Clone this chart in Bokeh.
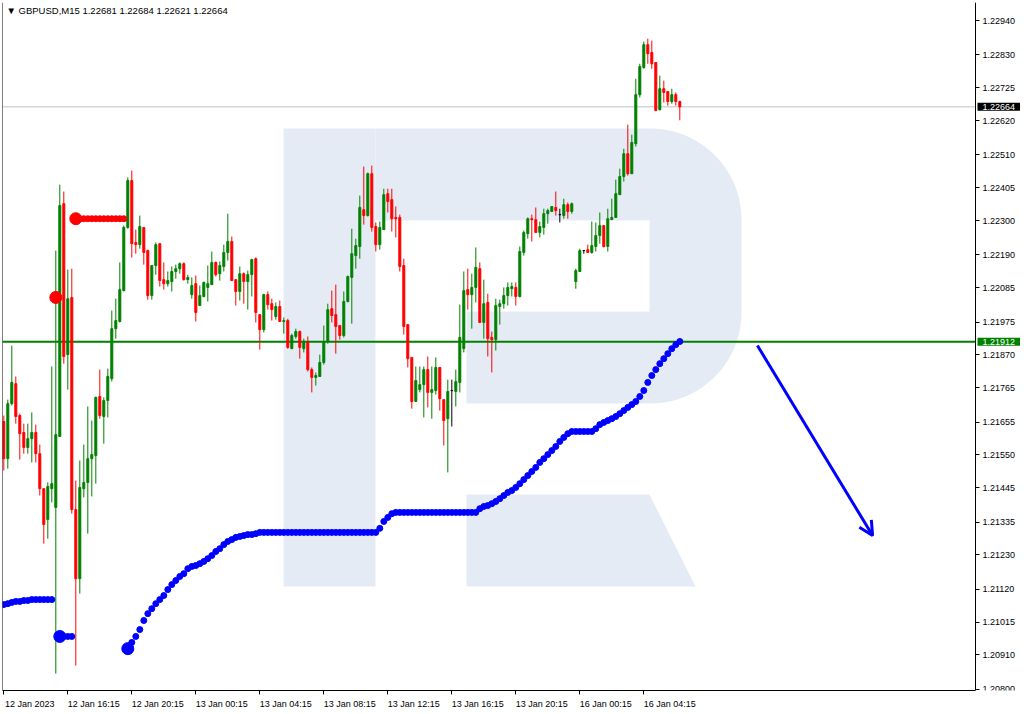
import numpy as np
from bokeh.plotting import figure
from bokeh.models import (FixedTicker, PrintfTickFormatter, Range1d, Label, Span, LinearAxis,
                          Arrow, OpenHead, PolyAnnotation, ColumnDataSource)
from bokeh.embed import file_html
from bokeh.resources import INLINE

nan = float("nan")

# ---------------- data (GBPUSD M15) ----------------
opens = [1.21657, 1.21538, 1.21714, 1.21778, 1.21676, 1.21622, 1.21574, 1.21602, 1.21622, 1.21554,
         1.21442, 1.21343, 1.21442, 1.21382, 1.21609, 1.22354, 1.21871, 1.22054, 1.21375, 1.21154,
         1.21442, 1.21462, 1.21538, 1.21548, 1.21737, 1.21673, 1.21724, 1.21794, 1.21954, 1.21977,
         1.22076, 1.22278, 1.22428, 1.22230, 1.22223, 1.22278, 1.22204, 1.22060, 1.22156, 1.22226,
         1.22111, 1.22098, 1.22105, 1.22137, 1.22146, 1.22162, 1.22111, 1.22063, 1.22098, 1.22028,
         1.22057, 1.22086, 1.22095, 1.22166, 1.22130, 1.22153, 1.22198, 1.22233, 1.22111, 1.22073,
         1.22130, 1.22105, 1.22127, 1.22178, 1.21999, 1.21951, 1.22063, 1.22034, 1.21993, 1.22025,
         1.21977, 1.21980, 1.21890, 1.21929, 1.21945, 1.21890, 1.21910, 1.21823, 1.21798, 1.21801,
         1.21846, 1.21913, 1.22018, 1.21999, 1.21964, 1.21932, 1.22041, 1.22118, 1.22188, 1.22217,
         1.22335, 1.22316, 1.22450, 1.22281, 1.22223, 1.22271, 1.22386, 1.22367, 1.22310, 1.22310,
         1.22156, 1.21967, 1.21862, 1.21721, 1.21759, 1.21775, 1.21823, 1.21750, 1.21756, 1.21830,
         1.21727, 1.21666, 1.21756, 1.21753, 1.21782, 1.21890, 1.22079, 1.22063, 1.22086, 1.22146,
         1.21974, 1.22038, 1.21926, 1.21919, 1.22025, 1.22034, 1.22060, 1.22082, 1.22086, 1.22057,
         1.22198, 1.22258, 1.22306, 1.22303, 1.22262, 1.22278, 1.22322, 1.22329, 1.22342, 1.22319,
         1.22316, 1.22351, 1.22329, 1.22105, 1.22137, 1.22204, 1.22207, 1.22198, 1.22217, 1.22252,
         1.22284, 1.22217, 1.22303, 1.22310, 1.22383, 1.22441, 1.22514, 1.22450, 1.22546, 1.22703,
         1.22790, 1.22863, 1.22838, 1.22806, 1.22655, 1.22722, 1.22713, 1.22681, 1.22703, 1.22681]
highs = [1.21676, 1.21727, 1.21900, 1.21801, 1.21682, 1.21650, 1.21650, 1.21686, 1.21647, 1.21583,
         1.21442, 1.21462, 1.21833, 1.22204, 1.22415, 1.22393, 1.22143, 1.22146, 1.21468, 1.21532,
         1.21583, 1.21705, 1.21660, 1.21737, 1.21823, 1.21734, 1.21826, 1.22012, 1.22050, 1.22166,
         1.22284, 1.22438, 1.22460, 1.22271, 1.22316, 1.22278, 1.22207, 1.22156, 1.22230, 1.22226,
         1.22166, 1.22137, 1.22153, 1.22159, 1.22166, 1.22166, 1.22127, 1.22118, 1.22124, 1.22092,
         1.22105, 1.22156, 1.22201, 1.22169, 1.22169, 1.22223, 1.22322, 1.22249, 1.22111, 1.22153,
         1.22134, 1.22140, 1.22178, 1.22182, 1.21999, 1.22066, 1.22073, 1.22050, 1.22038, 1.22044,
         1.21990, 1.21986, 1.21938, 1.21954, 1.21948, 1.21922, 1.21929, 1.21830, 1.21814, 1.21871,
         1.21964, 1.22034, 1.22076, 1.22095, 1.21964, 1.22073, 1.22124, 1.22274, 1.22242, 1.22380,
         1.22473, 1.22454, 1.22476, 1.22294, 1.22297, 1.22402, 1.22402, 1.22402, 1.22345, 1.22319,
         1.22178, 1.21967, 1.21862, 1.21833, 1.21833, 1.21833, 1.21865, 1.21833, 1.21862, 1.21830,
         1.21727, 1.21791, 1.21791, 1.21823, 1.22031, 1.22137, 1.22146, 1.22130, 1.22214, 1.22166,
         1.22111, 1.22066, 1.21945, 1.22050, 1.22047, 1.22086, 1.22102, 1.22102, 1.22102, 1.22217,
         1.22268, 1.22310, 1.22319, 1.22342, 1.22297, 1.22338, 1.22338, 1.22345, 1.22393, 1.22338,
         1.22370, 1.22358, 1.22358, 1.22146, 1.22210, 1.22204, 1.22223, 1.22297, 1.22294, 1.22326,
         1.22284, 1.22338, 1.22370, 1.22431, 1.22466, 1.22530, 1.22607, 1.22575, 1.22754, 1.22802,
         1.22873, 1.22882, 1.22876, 1.22806, 1.22764, 1.22748, 1.22713, 1.22722, 1.22710, 1.22684]
lows = [1.21500, 1.21506, 1.21708, 1.21650, 1.21535, 1.21554, 1.21554, 1.21526, 1.21526, 1.21420,
        1.21266, 1.21282, 1.21398, 1.20850, 1.21609, 1.21842, 1.21759, 1.21362, 1.20876, 1.21106,
        1.21414, 1.21298, 1.21417, 1.21458, 1.21666, 1.21586, 1.21670, 1.21785, 1.21922, 1.21974,
        1.22073, 1.22274, 1.22182, 1.22194, 1.22210, 1.22159, 1.22047, 1.22047, 1.22127, 1.22089,
        1.22079, 1.22089, 1.22073, 1.22114, 1.22130, 1.22108, 1.22098, 1.22050, 1.21977, 1.22028,
        1.22054, 1.22041, 1.22095, 1.22121, 1.22108, 1.22137, 1.22172, 1.22108, 1.22028, 1.22044,
        1.22034, 1.22015, 1.22057, 1.21974, 1.21887, 1.21942, 1.22015, 1.21980, 1.21983, 1.21977,
        1.21938, 1.21890, 1.21890, 1.21922, 1.21858, 1.21878, 1.21817, 1.21750, 1.21772, 1.21801,
        1.21839, 1.21906, 1.21974, 1.21874, 1.21919, 1.21926, 1.22038, 1.21970, 1.22146, 1.22178,
        1.22287, 1.22313, 1.22265, 1.22201, 1.22207, 1.22271, 1.22326, 1.22265, 1.22246, 1.22137,
        1.21935, 1.21830, 1.21698, 1.21721, 1.21750, 1.21670, 1.21702, 1.21666, 1.21743, 1.21692,
        1.21580, 1.21494, 1.21641, 1.21705, 1.21750, 1.21878, 1.22015, 1.21954, 1.22038, 1.21974,
        1.21922, 1.21865, 1.21814, 1.21884, 1.21967, 1.22018, 1.22028, 1.22057, 1.22028, 1.22054,
        1.22188, 1.22242, 1.22233, 1.22262, 1.22246, 1.22255, 1.22290, 1.22329, 1.22316, 1.22294,
        1.22306, 1.22306, 1.22322, 1.22082, 1.22137, 1.22194, 1.22198, 1.22194, 1.22201, 1.22226,
        1.22214, 1.22201, 1.22303, 1.22310, 1.22383, 1.22425, 1.22444, 1.22450, 1.22537, 1.22694,
        1.22786, 1.22802, 1.22786, 1.22652, 1.22652, 1.22678, 1.22668, 1.22674, 1.22668, 1.22621]
closes = [1.21538, 1.21714, 1.21782, 1.21673, 1.21618, 1.21574, 1.21602, 1.21622, 1.21554, 1.21442,
          1.21327, 1.21449, 1.21458, 1.21615, 1.22348, 1.21865, 1.22050, 1.21375, 1.21154, 1.21446,
          1.21462, 1.21538, 1.21551, 1.21734, 1.21676, 1.21724, 1.21801, 1.21954, 1.21980, 1.22079,
          1.22278, 1.22428, 1.22226, 1.22223, 1.22281, 1.22198, 1.22060, 1.22156, 1.22223, 1.22108,
          1.22098, 1.22108, 1.22137, 1.22146, 1.22162, 1.22111, 1.22118, 1.22092, 1.22006, 1.22060,
          1.22102, 1.22098, 1.22166, 1.22127, 1.22156, 1.22198, 1.22233, 1.22108, 1.22073, 1.22130,
          1.22105, 1.22127, 1.22175, 1.22006, 1.21951, 1.22063, 1.22031, 1.22015, 1.22025, 1.21977,
          1.21980, 1.21894, 1.21932, 1.21945, 1.21894, 1.21910, 1.21823, 1.21798, 1.21804, 1.21846,
          1.21913, 1.22015, 1.21996, 1.21961, 1.21932, 1.22041, 1.22121, 1.22194, 1.22220, 1.22342,
          1.22316, 1.22450, 1.22278, 1.22223, 1.22278, 1.22383, 1.22361, 1.22306, 1.22306, 1.22153,
          1.21961, 1.21858, 1.21721, 1.21788, 1.21775, 1.21823, 1.21750, 1.21759, 1.21830, 1.21730,
          1.21660, 1.21753, 1.21756, 1.21785, 1.21926, 1.22076, 1.22063, 1.22086, 1.22150, 1.21974,
          1.22034, 1.21922, 1.21919, 1.22028, 1.22034, 1.22060, 1.22086, 1.22089, 1.22057, 1.22201,
          1.22262, 1.22306, 1.22303, 1.22262, 1.22281, 1.22322, 1.22332, 1.22345, 1.22332, 1.22319,
          1.22351, 1.22329, 1.22354, 1.22140, 1.22204, 1.22204, 1.22198, 1.22220, 1.22252, 1.22284,
          1.22217, 1.22306, 1.22310, 1.22386, 1.22441, 1.22514, 1.22450, 1.22550, 1.22703, 1.22793,
          1.22863, 1.22834, 1.22802, 1.22652, 1.22722, 1.22710, 1.22681, 1.22703, 1.22681, 1.22664]

# trailing-stop dots (indicator), one value per bar, nan = no dot
stop_blue = [1.21071, 1.21074, 1.21078, 1.21081, 1.21081, 1.21084, 1.21084, 1.21087, 1.21087, 1.21087,
             1.21087, 1.21087, 1.21087, nan, 1.20969, 1.20969, 1.20969, 1.20969, nan, nan,
             nan, nan, nan, nan, nan, nan, nan, nan, nan, nan,
             nan, 1.20930, 1.20950, 1.20969, 1.20991, 1.21020, 1.21042, 1.21058, 1.21074, 1.21087,
             1.21100, 1.21119, 1.21135, 1.21148, 1.21161, 1.21170, 1.21186, 1.21193, 1.21196, 1.21202,
             1.21209, 1.21218, 1.21228, 1.21241, 1.21250, 1.21263, 1.21273, 1.21279, 1.21286, 1.21289,
             1.21292, 1.21295, 1.21295, 1.21298, 1.21302, 1.21302, 1.21302, 1.21302, 1.21302, 1.21302,
             1.21302, 1.21302, 1.21302, 1.21302, 1.21302, 1.21302, 1.21302, 1.21302, 1.21302, 1.21302,
             1.21302, 1.21302, 1.21302, 1.21302, 1.21302, 1.21302, 1.21302, 1.21302, 1.21302, 1.21302,
             1.21302, 1.21302, 1.21302, 1.21302, 1.21315, 1.21337, 1.21350, 1.21362, 1.21366, 1.21366,
             1.21366, 1.21366, 1.21366, 1.21366, 1.21366, 1.21366, 1.21366, 1.21366, 1.21366, 1.21366,
             1.21366, 1.21366, 1.21366, 1.21366, 1.21366, 1.21366, 1.21366, 1.21366, 1.21366, 1.21378,
             1.21385, 1.21388, 1.21394, 1.21401, 1.21410, 1.21420, 1.21430, 1.21436, 1.21446, 1.21458,
             1.21471, 1.21484, 1.21497, 1.21510, 1.21526, 1.21538, 1.21551, 1.21564, 1.21577, 1.21593,
             1.21606, 1.21618, 1.21625, 1.21625, 1.21625, 1.21625, 1.21625, 1.21625, 1.21634, 1.21647,
             1.21654, 1.21660, 1.21666, 1.21673, 1.21682, 1.21692, 1.21702, 1.21711, 1.21721, 1.21737,
             1.21756, 1.21782, 1.21804, 1.21823, 1.21842, 1.21858, 1.21874, 1.21890, 1.21903, 1.21913]
stop_red_bars = [13, 18, 19, 20, 21, 22, 23, 24, 25, 26, 27, 28, 29, 30]
stop_red = [1.22054, 1.22306, 1.22306, 1.22306, 1.22306, 1.22306, 1.22306, 1.22306, 1.22306,
            1.22306, 1.22306, 1.22306, 1.22306, 1.22306]
signal_blue_bars = [14, 31]
signal_red_bars = [13, 18]

tick_bars = [0, 16, 32, 48, 64, 80, 96, 112, 128, 144, 160]
tick_labels = ["12 Jan 2023", "12 Jan 16:15", "12 Jan 20:15", "13 Jan 00:15", "13 Jan 04:15",
               "13 Jan 08:15", "13 Jan 12:15", "13 Jan 16:15", "13 Jan 20:15", "16 Jan 00:15",
               "16 Jan 04:15"]
price_ticks = [1.22940, 1.22830, 1.22725, 1.22620, 1.22510, 1.22405, 1.22300, 1.22190, 1.22085,
               1.21975, 1.21870, 1.21765, 1.21655, 1.21550, 1.21445, 1.21335, 1.21230, 1.21120,
               1.21015, 1.20910, 1.20800]
bid_price = 1.22664
level_price = 1.21912
arrow_bars = [188.4, 217.2]
arrow_prices = [1.21900, 1.21292]
header = "\u25bc  GBPUSD,M15  1.22681 1.22684 1.22621 1.22664"

# ---------------- figure ----------------
FONT = "Liberation Sans"
W, H = 1024, 714
BL, BT, BB = 2, 2, 24
CHART_W = 973            # px from frame left to the price scale line
FW = W - BL              # frame spans to the right edge (price scale drawn inside it)
FH = H - BT - BB
PX = 4.0                 # px per bar
X0 = -0.325
X1 = X0 + FW / PX
XA = X0 + CHART_W / PX   # data x of the price-scale line
p = figure(width=W, height=H, output_backend="svg", toolbar_location=None,
           x_range=Range1d(X0, X1), y_range=Range1d(1.20796, 1.22998),
           y_axis_location=None, min_border_left=BL, min_border_top=BT,
           min_border_right=0, min_border_bottom=BB)
p.background_fill_color = "white"
p.border_fill_color = "white"
p.outline_line_color = None
p.grid.visible = False

# watermark "R" (decoration, in frame pixels)
def fx(rx):
    return rx - BL

def fy(ry):
    return (H - BB) - ry

wm = "#e5ebf4"
def poly(pts):
    return PolyAnnotation(xs=[fx(a) for a, b in pts], ys=[fy(b) for a, b in pts],
                          xs_units="screen", ys_units="screen", fill_color=wm, fill_alpha=1.0,
                          line_color=None, level="underlay")

stem = [(283, 128), (375, 128), (375, 586), (283, 586)]
t1 = np.linspace(np.pi / 2, 0, 24)
t2 = np.linspace(0, -np.pi / 2, 24)
bowl = [(375, 128), (650, 128)]
bowl += [(650 + 91 * np.cos(t), 219 - 91 * np.sin(t)) for t in t1]
bowl += [(741, 315)]
bowl += [(650 + 91 * np.cos(t), 312 - 91 * np.sin(t)) for t in t2]
bowl += [(466, 403), (466, 311), (649, 311), (649, 220), (375, 220)]
leg = [(466, 494), (649, 494), (695, 586), (466, 586)]
for shape in (stem, bowl, leg):
    p.add_layout(poly(shape))

# left border of the chart window
p.add_layout(Span(location=X0, dimension="height", line_color="black", line_width=1))

idx = np.arange(len(opens))
o = np.array(opens); c = np.array(closes)
colors = np.where(c > o, "#008000", np.where(c < o, "#ff0000", "#000000"))
src = ColumnDataSource(dict(x=idx, o=o, h=highs, l=lows, c=c,
                            top=np.maximum(o, c), bot=np.minimum(o, c), color=colors))

# horizontal levels (end at the price scale)
p.segment(x0=[X0], x1=[XA], y0=[bid_price], y1=[bid_price], line_color="#c0c0c0", line_width=1)
p.segment(x0=[X0], x1=[XA], y0=[level_price], y1=[level_price], line_color="#008000",
          line_width=2)

p.segment(x0="x", y0="l", x1="x", y1="h", line_color="color", line_width=1, source=src)
p.vbar(x="x", width=0.5, top="top", bottom="bot", fill_color="color", line_color="color",
       line_width=1, source=src)

# indicator dots
p.scatter(idx, stop_blue, size=6, color="#0000ff")
p.scatter(stop_red_bars, stop_red, size=6, color="#ff0000")
p.scatter(signal_blue_bars, [stop_blue[i] for i in signal_blue_bars], size=12, color="#0000ff")
p.scatter(signal_red_bars, [stop_red[stop_red_bars.index(i)] for i in signal_red_bars],
          size=12, color="#ff0000")

# forecast arrow
p.add_layout(Arrow(end=OpenHead(size=14, line_color="#0000ff", line_width=3),
                   x_start=arrow_bars[0], y_start=arrow_prices[0],
                   x_end=arrow_bars[1], y_end=arrow_prices[1],
                   line_color="#0000ff", line_width=3))

# price scale (right), drawn at a fixed x location
yax = LinearAxis(fixed_location=XA)
yax.ticker = FixedTicker(ticks=price_ticks)
yax.formatter = PrintfTickFormatter(format="%.5f")
yax.major_tick_out = 4
yax.major_tick_in = 0
yax.minor_tick_line_color = None
yax.axis_line_color = "black"
yax.major_label_text_font = FONT
yax.major_label_text_font_size = "9px"
yax.major_label_text_color = "black"
yax.major_label_standoff = 3
p.add_layout(yax, "right")

# time scale (bottom): tick marks as minor ticks, labels right of each tick
OFF = 6.5
xax = p.xaxis[0]
xax.ticker = FixedTicker(ticks=[t + OFF for t in tick_bars], minor_ticks=tick_bars)
xax.major_label_overrides = {t + OFF: lab for t, lab in zip(tick_bars, tick_labels)}
xax.bounds = (X0, XA)
xax.major_tick_line_color = None
xax.minor_tick_out = 4
xax.minor_tick_in = 0
xax.minor_tick_line_color = "black"
xax.axis_line_color = "black"
xax.major_label_text_font = FONT
xax.major_label_text_font_size = "9px"
xax.major_label_text_color = "black"
xax.major_label_standoff = 2

# price boxes on the price scale
for price, bg in ((bid_price, "#000000"), (level_price, "#008000")):
    p.add_layout(Label(x=XA + 0.5, x_units="data", y=price, y_units="data",
                       text=f"{price:.5f}", text_color="white", text_font=FONT,
                       text_font_size="9px", text_baseline="middle", text_align="left",
                       background_fill_color=bg, padding=(5, 1)))

# header
p.add_layout(Label(x=4, x_units="screen", y=FH - 8, y_units="screen", text=header,
                   text_font=FONT, text_font_size="9.5px", text_color="black",
                   text_baseline="middle"))

open("out.html", "w").write(file_html(p, INLINE))
